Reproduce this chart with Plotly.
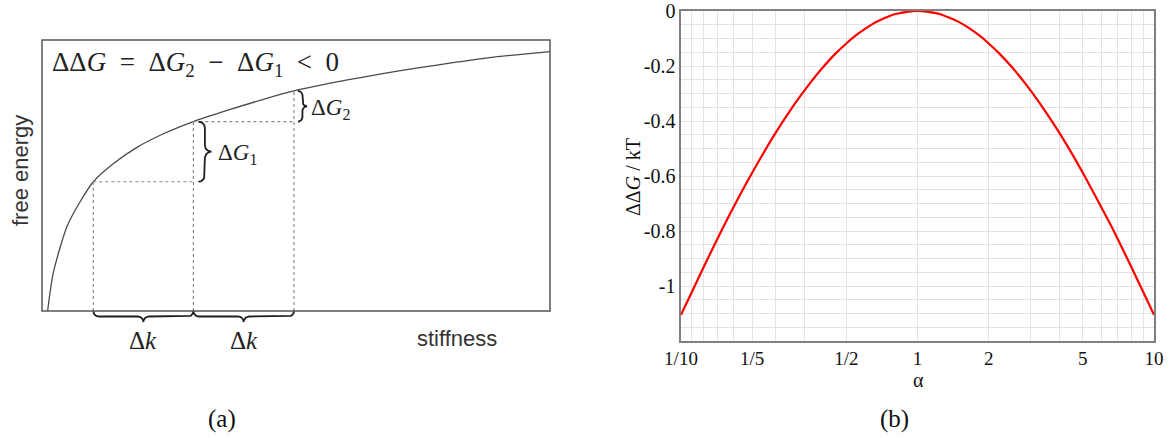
import numpy as np
import plotly.graph_objects as go

# ---------------- data ----------------
# panel (a): schematic free energy vs stiffness (normalised units)
stiffness = [0.011, 0.022, 0.049, 0.075, 0.101, 0.142, 0.187, 0.239, 0.298, 0.366,
             0.441, 0.496, 0.591, 0.665, 0.740, 0.815, 0.890, 1.000]
free_energy = [0.000, 0.139, 0.311, 0.403, 0.477, 0.546, 0.604, 0.654, 0.699, 0.741,
               0.784, 0.812, 0.849, 0.874, 0.897, 0.918, 0.937, 0.957]
step_k = [0.101, 0.298, 0.496]   # three stiffness values separated by Δk
step_E = [0.477, 0.699, 0.812]   # free energy at those stiffness values

# panel (b): ΔΔG/kT vs α
alpha = [0.1, 0.11, 0.125, 0.15, 0.175, 0.2, 0.25, 0.3, 0.35, 0.4, 0.45, 0.5, 0.55,
         0.6, 0.65, 0.7, 0.75, 0.8, 0.85, 0.9, 1.0,
         1.11, 1.18, 1.25, 1.33, 1.43, 1.54, 1.67, 1.82, 2.0, 2.22, 2.5, 2.86,
         3.33, 4.0, 5.0, 5.7, 6.67, 8.0, 9.1, 10.0]
ddG = [-1.105, -1.030, -0.929, -0.790, -0.679, -0.588, -0.446, -0.342, -0.264, -0.203,
       -0.155, -0.118, -0.088, -0.065, -0.046, -0.032, -0.021, -0.012, -0.007, -0.003, 0.0,
       -0.003, -0.007, -0.012, -0.021, -0.032, -0.046, -0.065, -0.088, -0.118, -0.155,
       -0.203, -0.264, -0.342, -0.446, -0.588, -0.679, -0.790, -0.929, -1.030, -1.105]

x_tick_vals = [1/10, 1/5, 1/2, 1, 2, 5, 10]
x_tick_text = ["1/10", "1/5", "1/2", "1", "2", "5", "10"]
x_minor_vals = [1/9, 1/8, 1/7, 1/6, 1/4, 1/3, 3, 4, 6, 7, 8, 9]
y_tick_vals = [0, -0.2, -0.4, -0.6, -0.8, -1.0]
y_tick_text = ["0", "-0.2", "-0.4", "-0.6", "-0.8", "-1"]

# ---------------- layout helpers ----------------
W, H = 1174, 438
SERIF = "Liberation Serif"
SANS = "Liberation Sans"

def xd(p0, p1):
    return [p0 / W, p1 / W]

def yd(top, bot):
    return [1 - bot / H, 1 - top / H]

# panel (a) pixel geometry
AX_L, AX_R, AX_T, AX_B = 42, 550, 40, 311
SX = AX_R - AX_L          # px per stiffness unit
SY = AX_B - AX_T          # px per energy unit
KR = [-0.03, 1.03]
ER = [-0.12, 1.03]
a_xdom = xd(AX_L + KR[0] * SX, AX_L + KR[1] * SX)
a_ydom = yd(AX_B - ER[1] * SY, AX_B - ER[0] * SY)

# panel (b) pixel geometry
B_L, B_R, B_T, B_B = 681, 1154, 11, 341

fig = go.Figure()

# ---- panel (a) ----
fig.add_trace(go.Scatter(x=stiffness, y=free_energy, mode="lines",
                         line=dict(color="#4a4a4a", width=1.3, shape="spline", smoothing=0.7),
                         xaxis="x", yaxis="y", hoverinfo="skip"))

dx, dy = [], []
for i, (k, e) in enumerate(zip(step_k, step_E)):
    dx += [k, k, None]
    dy += [0, e, None]
    if i < len(step_k) - 1:
        dx += [k, step_k[i + 1], None]
        dy += [e, e, None]
fig.add_trace(go.Scatter(x=dx, y=dy, mode="lines",
                         line=dict(color="#8a8a8a", width=1.2, dash="dot"),
                         xaxis="x", yaxis="y", hoverinfo="skip"))


def brace(a, b, depth, normal, offset=(0.0, 0.0)):
    """Curly brace between data points a and b (pixel-space shape)."""
    A = np.array([a[0] * SX + offset[0], a[1] * SY + offset[1]])
    B = np.array([b[0] * SX + offset[0], b[1] * SY + offset[1]])
    L = np.linalg.norm(B - A)
    u = (B - A) / L
    n = np.array(normal, dtype=float)
    r = depth / 2
    th = np.linspace(0, np.pi / 2, 14)
    s1 = list(r - r * np.cos(th)) + list(L / 2 - r + r * np.sin(th))
    o1 = list(r * np.sin(th)) + list(2 * r - r * np.cos(th))
    s = s1 + [L - v for v in reversed(s1)]
    o = o1 + list(reversed(o1))
    pts = [A + si * u + oi * n for si, oi in zip(s, o)]
    return [p[0] / SX for p in pts], [p[1] / SY for p in pts]

bx, by = [], []
for (a, b, d, nrm, off) in [
    ((step_k[0], 0), (step_k[1], 0), 11, (0, -1), (0, 0)),
    ((step_k[1], 0), (step_k[2], 0), 11, (0, -1), (0, 0)),
    ((step_k[1], step_E[1]), (step_k[1], step_E[0]), 13, (1, 0), (5, 0)),
    ((step_k[2], step_E[2]), (step_k[2], step_E[1]), 9, (1, 0), (4, 0)),
]:
    xs, ys = brace(a, b, d, nrm, off)
    bx += xs + [None]
    by += ys + [None]
fig.add_trace(go.Scatter(x=bx, y=by, mode="lines",
                         line=dict(color="#1e1e1e", width=1.8),
                         xaxis="x", yaxis="y", hoverinfo="skip"))

fig.add_shape(type="rect", xref="x", yref="y", x0=0, x1=1, y0=0, y1=1,
              line=dict(color="#555555", width=1.5))

# ---- panel (b) ----
fig.add_trace(go.Scatter(x=alpha, y=ddG, mode="lines",
                         line=dict(color="#ff0000", width=2.2, shape="spline", smoothing=0.5),
                         xaxis="x2", yaxis="y2", hoverinfo="skip"))

grid_c = "#e2e2e2"
fig.update_layout(
    width=W, height=H,
    margin=dict(l=0, r=0, t=0, b=0, autoexpand=False),
    paper_bgcolor="white", plot_bgcolor="white",
    showlegend=False,
    xaxis=dict(domain=a_xdom, range=KR, visible=False, fixedrange=True, automargin=False),
    yaxis=dict(domain=a_ydom, range=ER, visible=False, fixedrange=True, automargin=False),
    xaxis2=dict(domain=xd(B_L, B_R), type="log", range=[-1, 1], anchor="y2",
                tickmode="array", tickvals=x_tick_vals, ticktext=x_tick_text,
                showgrid=True, gridcolor=grid_c, gridwidth=1,
                minor=dict(tickmode="array", tickvals=x_minor_vals, showgrid=True,
                           gridcolor=grid_c, gridwidth=1, ticks=""),
                showline=True, linecolor="#808080", linewidth=1.6, mirror=True,
                ticks="", zeroline=False, automargin=False,
                tickfont=dict(family=SERIF, size=19, color="#111111")),
    yaxis2=dict(domain=yd(B_T, B_B), range=[-1.2, 0], anchor="x2",
                tickmode="array", tickvals=y_tick_vals, ticktext=y_tick_text,
                showgrid=True, gridcolor=grid_c, gridwidth=1,
                minor=dict(tickmode="linear", tick0=0, dtick=0.05, showgrid=True,
                           gridcolor=grid_c, gridwidth=1, ticks=""),
                showline=True, linecolor="#808080", linewidth=1.6, mirror=True,
                ticks="", zeroline=False, automargin=False,
                tickfont=dict(family=SERIF, size=20, color="#111111")),
)

ann = []
SP = "\u2002"
# panel (a) texts
ann.append(dict(xref="x", yref="y", x=0, y=1, xanchor="left", yanchor="middle",
                xshift=8, yshift=-24, showarrow=False,
                text=f"ΔΔ<i>G</i>{SP}={SP}Δ<i>G</i><sub>2</sub>{SP}−{SP}Δ<i>G</i><sub>1</sub>{SP}&lt;{SP}0",
                font=dict(family=SERIF, size=27, color="#222222")))
ann.append(dict(xref="x", yref="y", x=step_k[2], y=(step_E[1] + step_E[2]) / 2,
                xanchor="left", yanchor="middle", xshift=15, yshift=-3, showarrow=False,
                text="Δ<i>G</i><sub>2</sub>", font=dict(family=SERIF, size=23, color="#222222")))
ann.append(dict(xref="x", yref="y", x=step_k[1], y=(step_E[0] + step_E[1]) / 2,
                xanchor="left", yanchor="middle", xshift=23, yshift=-2, showarrow=False,
                text="Δ<i>G</i><sub>1</sub>", font=dict(family=SERIF, size=23, color="#222222")))
for i in range(2):
    ann.append(dict(xref="x", yref="y", x=(step_k[i] + step_k[i + 1]) / 2, y=0,
                    xanchor="center", yanchor="middle", yshift=-29, showarrow=False,
                    text="Δ<i>k</i>", font=dict(family=SERIF, size=25, color="#222222")))
ann.append(dict(xref="paper", yref="paper", x=457 / W, y=1 - 338 / H,
                xanchor="center", yanchor="middle", showarrow=False,
                text="stiffness", font=dict(family=SANS, size=22, color="#333333")))
ann.append(dict(xref="paper", yref="paper", x=20 / W, y=1 - 171 / H, textangle=-90,
                xanchor="center", yanchor="middle", showarrow=False,
                text="free energy", font=dict(family=SANS, size=22, color="#333333")))
ann.append(dict(xref="paper", yref="paper", x=222 / W, y=1 - 419 / H,
                xanchor="center", yanchor="middle", showarrow=False,
                text="(a)", font=dict(family=SERIF, size=25, color="#111111")))
# panel (b) texts
ann.append(dict(xref="paper", yref="paper", x=894 / W, y=1 - 419 / H,
                xanchor="center", yanchor="middle", showarrow=False,
                text="(b)", font=dict(family=SERIF, size=25, color="#111111")))
ann.append(dict(xref="paper", yref="paper", x=918 / W, y=1 - 380 / H,
                xanchor="center", yanchor="middle", showarrow=False,
                text="α", font=dict(family=SERIF, size=20, color="#111111")))
ann.append(dict(xref="paper", yref="paper", x=633 / W, y=1 - 177 / H, textangle=-90,
                xanchor="center", yanchor="middle", showarrow=False,
                text="ΔΔ<i>G</i> / kT", font=dict(family=SERIF, size=20, color="#111111")))
fig.update_layout(annotations=ann)

fig.write_html("out.html", config={"displayModeBar": False, "staticPlot": True},
               post_script="document.body.style.margin='0';document.body.style.overflow='hidden';")
